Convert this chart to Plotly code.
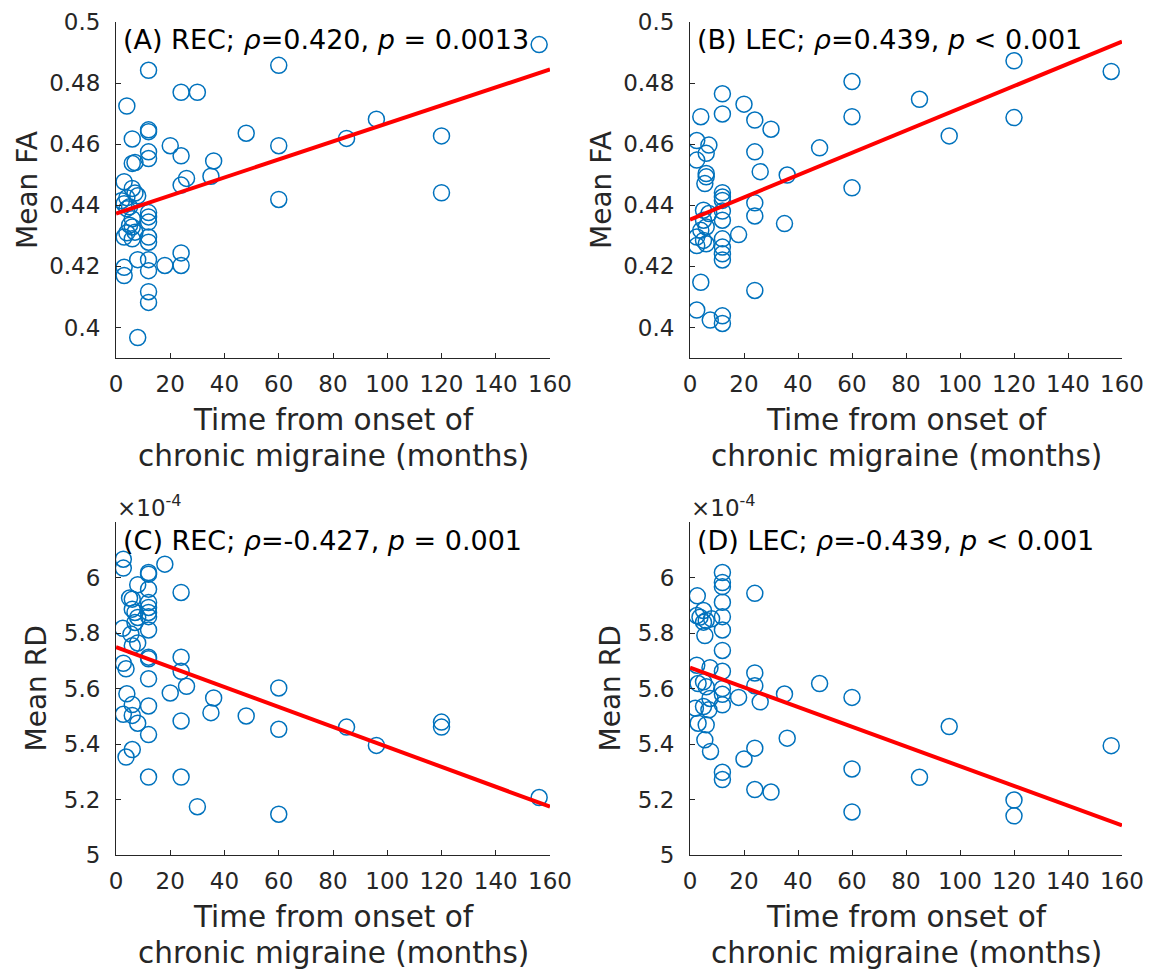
import plotly.graph_objects as go

W, H = 1150, 970

# ---------------- data ----------------
a_x = [156, 12, 60, 24, 30, 4, 12, 12, 6, 48, 96, 85, 120, 60, 20, 12, 12, 24, 36, 6,
       7, 26, 35, 24, 3, 120, 60, 6, 7, 8, 3, 4, 12, 12, 12, 6, 6, 7, 3, 6,
       12, 12, 8, 12, 24, 24, 18, 12, 3, 3, 12, 12, 8, 2, 5, 4, 5, 4]
a_y = [0.4926, 0.4842, 0.4858, 0.477, 0.477, 0.4725, 0.4647, 0.4641, 0.4617, 0.4636,
       0.4682, 0.4619, 0.4627, 0.4595, 0.4595, 0.4575, 0.4553, 0.4562, 0.4545, 0.4537,
       0.454, 0.4488, 0.4495, 0.4466, 0.4477, 0.4441, 0.4419, 0.4455, 0.444, 0.4431,
       0.4405, 0.4389, 0.4376, 0.4362, 0.4345, 0.4356, 0.4329, 0.4312, 0.4296, 0.429,
       0.4296, 0.4279, 0.4222, 0.4222, 0.4244, 0.4203, 0.4203, 0.4186, 0.4197, 0.417,
       0.4117, 0.4082, 0.3967, 0.4415, 0.4395, 0.4425, 0.4335, 0.431]
a_fit_x = [0, 160]
a_fit_y = [0.4373, 0.4845]

b_x = [156, 120, 60, 12, 20, 4, 12, 24, 30, 85, 60, 120, 96, 2.5, 7, 6, 2.5, 24, 48, 6,
       6, 5.5, 26, 36, 60, 12, 12, 12, 24, 24, 12, 12, 35, 5, 7, 5, 6, 4, 2.5, 2.5,
       5, 6, 18, 12, 12, 12, 12, 4, 24, 2.5, 7.5, 12, 12]
b_y = [0.4838, 0.4873, 0.4805, 0.4765, 0.4731, 0.469, 0.4699, 0.4679, 0.4649, 0.4747,
       0.469, 0.4687, 0.4627, 0.4612, 0.4597, 0.457, 0.4548, 0.4575, 0.4588, 0.4504,
       0.4493, 0.4471, 0.451, 0.4499, 0.4457, 0.4441, 0.4427, 0.4416, 0.4408, 0.4365,
       0.4381, 0.4351, 0.434, 0.4384, 0.4373, 0.4351, 0.4329, 0.4318, 0.4296, 0.4268,
       0.4285, 0.4274, 0.4304, 0.429, 0.4263, 0.4241, 0.4221, 0.4148, 0.4121, 0.4057,
       0.4024, 0.4038, 0.4013]
b_fit_x = [0, 160]
b_fit_y = [0.4353, 0.4936]

c_x = [2.7, 2.7, 18, 12, 12, 8, 12, 24, 5, 6, 12, 12, 12, 6, 7, 8, 7, 12, 2.5, 12,
       5.5, 8, 6, 12, 12, 24, 2.7, 3.7, 24, 12, 26, 60, 20, 4, 36, 6, 12, 35, 2.7, 6,
       48, 8, 24, 120, 120, 85, 60, 12, 96, 6, 3.7, 12, 24, 30, 60, 156]
c_y = [6.066, 6.034, 6.048, 6.018, 6.012, 5.974, 5.958, 5.946, 5.926, 5.922,
       5.91, 5.892, 5.874, 5.886, 5.874, 5.856, 5.838, 5.859, 5.817, 5.811,
       5.796, 5.764, 5.754, 5.713, 5.707, 5.713, 5.691, 5.671, 5.662, 5.635,
       5.608, 5.602, 5.584, 5.581, 5.566, 5.542, 5.537, 5.513, 5.507, 5.503,
       5.501, 5.475, 5.483, 5.479, 5.461, 5.461, 5.453, 5.434, 5.395, 5.38,
       5.353, 5.281, 5.281, 5.174, 5.147, 5.207]
c_fit_x = [0, 160]
c_fit_y = [5.749, 5.174]

d_x = [12, 12, 12, 2.7, 24, 12, 2.5, 5, 3.7, 6, 8, 12, 5, 12, 5.5, 12, 2.5, 7.4, 12, 24,
       24, 48, 3, 5, 6, 12, 12, 35, 18, 60, 7.4, 26, 12, 2, 5, 7, 3, 6, 96, 36,
       5.5, 24, 156, 7.6, 20, 60, 12, 12, 85, 24, 30, 120, 120, 60]
d_y = [6.018, 5.982, 5.967, 5.934, 5.943, 5.911, 5.863, 5.881, 5.857, 5.845,
       5.851, 5.859, 5.839, 5.811, 5.791, 5.737, 5.684, 5.675, 5.662, 5.656,
       5.61, 5.618, 5.618, 5.624, 5.606, 5.6, 5.579, 5.58, 5.568, 5.568,
       5.564, 5.552, 5.541, 5.529, 5.535, 5.523, 5.475, 5.469, 5.463, 5.421,
       5.415, 5.385, 5.394, 5.373, 5.346, 5.31, 5.298, 5.272, 5.28, 5.236,
       5.227, 5.198, 5.141, 5.155]
d_fit_x = [0, 160]
d_fit_y = [5.675, 5.107]

x_ticks = [0, 20, 40, 60, 80, 100, 120, 140, 160]
fa_ticks = [0.4, 0.42, 0.44, 0.46, 0.48, 0.5]
fa_ticktext = ["0.4", "0.42", "0.44", "0.46", "0.48", "0.5"]
rd_ticks = [5, 5.2, 5.4, 5.6, 5.8, 6]
rd_ticktext = ["5", "5.2", "5.4", "5.6", "5.8", "6"]

panel_titles = [
    "(A) REC; <i>ρ</i>=0.420, <i>p</i> = 0.0013",
    "(B) LEC; <i>ρ</i>=0.439, <i>p</i> &lt; 0.001",
    "(C) REC; <i>ρ</i>=-0.427, <i>p</i> = 0.001",
    "(D) LEC; <i>ρ</i>=-0.439, <i>p</i> &lt; 0.001",
]
y_titles = ["Mean FA", "Mean FA", "Mean RD", "Mean RD"]
x_title_1 = "Time from onset of"
x_title_2 = "chronic migraine (months)"
exp_label = "×10<sup>-4</sup>"

# ---------------- layout geometry (pixels) ----------------
FONT = "DejaVu Sans"
BLUE = "#0072BD"
GREY = "#262626"

panels = [
    dict(x=a_x, y=a_y, fx=a_fit_x, fy=a_fit_y, left=116, right=550, top=22, bottom=358,
         yr=[0.39, 0.5], tv=fa_ticks, tt=fa_ticktext, ytoff=88),
    dict(x=b_x, y=b_y, fx=b_fit_x, fy=b_fit_y, left=690, right=1122, top=22, bottom=358,
         yr=[0.39, 0.5], tv=fa_ticks, tt=fa_ticktext, ytoff=88),
    dict(x=c_x, y=c_y, fx=c_fit_x, fy=c_fit_y, left=116, right=550, top=522, bottom=855,
         yr=[5, 6.2], tv=rd_ticks, tt=rd_ticktext, ytoff=80),
    dict(x=d_x, y=d_y, fx=d_fit_x, fy=d_fit_y, left=690, right=1122, top=522, bottom=855,
         yr=[5, 6.2], tv=rd_ticks, tt=rd_ticktext, ytoff=80),
]

fig = go.Figure()
annotations = []


def px(x):
    return x / W


def py(y):
    return 1 - y / H


for i, p in enumerate(panels):
    n = i + 1
    xa = "x" if n == 1 else f"x{n}"
    ya = "y" if n == 1 else f"y{n}"
    fig.add_trace(go.Scatter(
        x=p["x"], y=p["y"], mode="markers", xaxis=xa, yaxis=ya,
        marker=dict(symbol="circle-open", size=16, color=BLUE, line=dict(width=1.5, color=BLUE)),
        showlegend=False, hoverinfo="x+y"))
    fig.add_trace(go.Scatter(
        x=p["fx"], y=p["fy"], mode="lines", xaxis=xa, yaxis=ya,
        line=dict(color="#FF0000", width=4), showlegend=False))

    xkey = "xaxis" if n == 1 else f"xaxis{n}"
    ykey = "yaxis" if n == 1 else f"yaxis{n}"
    fig.layout[xkey] = dict(
        domain=[px(p["left"]), px(p["right"])], anchor=ya, range=[0, 160],
        tickvals=x_ticks, ticktext=[str(v) for v in x_ticks], automargin=False,
        showline=True, linecolor=GREY, linewidth=1, ticks="inside", ticklen=5,
        tickcolor=GREY, showgrid=False, zeroline=False, mirror=False,
        tickfont=dict(family=FONT, size=23, color=GREY), ticklabelstandoff=5)
    fig.layout[ykey] = dict(
        domain=[py(p["bottom"]), py(p["top"])], anchor=xa, range=p["yr"],
        tickvals=p["tv"], ticktext=p["tt"], automargin=False,
        showline=True, linecolor=GREY, linewidth=1, ticks="inside", ticklen=5,
        tickcolor=GREY, showgrid=False, zeroline=False, mirror=False,
        tickfont=dict(family=FONT, size=23, color=GREY), ticklabelstandoff=10)

    cx = (p["left"] + p["right"]) / 2
    # panel title inside plot
    annotations.append(dict(
        text=panel_titles[i], x=px(p["left"] + 5), y=py(p["top"] + 18),
        xref="paper", yref="paper", xanchor="left", yanchor="middle", showarrow=False,
        font=dict(family=FONT, size=27, color="#000000")))
    # y title
    annotations.append(dict(
        text=y_titles[i], x=px(p["left"] - p["ytoff"]), y=py((p["top"] + p["bottom"]) / 2),
        xref="paper", yref="paper", xanchor="center", yanchor="middle", showarrow=False,
        textangle=-90, font=dict(family=FONT, size=28, color=GREY)))
    # x title (two lines)
    annotations.append(dict(
        text=x_title_1, x=px(cx), y=py(p["bottom"] + 62),
        xref="paper", yref="paper", xanchor="center", yanchor="middle", showarrow=False,
        font=dict(family=FONT, size=29.5, color=GREY)))
    annotations.append(dict(
        text=x_title_2, x=px(cx), y=py(p["bottom"] + 98),
        xref="paper", yref="paper", xanchor="center", yanchor="middle", showarrow=False,
        font=dict(family=FONT, size=29.5, color=GREY)))
    if i >= 2:
        annotations.append(dict(
            text=exp_label, x=px(p["left"] - 1), y=py(p["top"] - 16),
            xref="paper", yref="paper", xanchor="left", yanchor="middle", showarrow=False,
            font=dict(family=FONT, size=23, color=GREY)))

fig.update_layout(
    width=W, height=H, margin=dict(l=0, r=0, t=0, b=0, autoexpand=False),
    paper_bgcolor="white", plot_bgcolor="white",
    annotations=annotations, font=dict(family=FONT))

fig.write_html("out.html", config={"displayModeBar": False},
               post_script="document.body.style.margin='0';document.body.style.overflow='hidden';")
